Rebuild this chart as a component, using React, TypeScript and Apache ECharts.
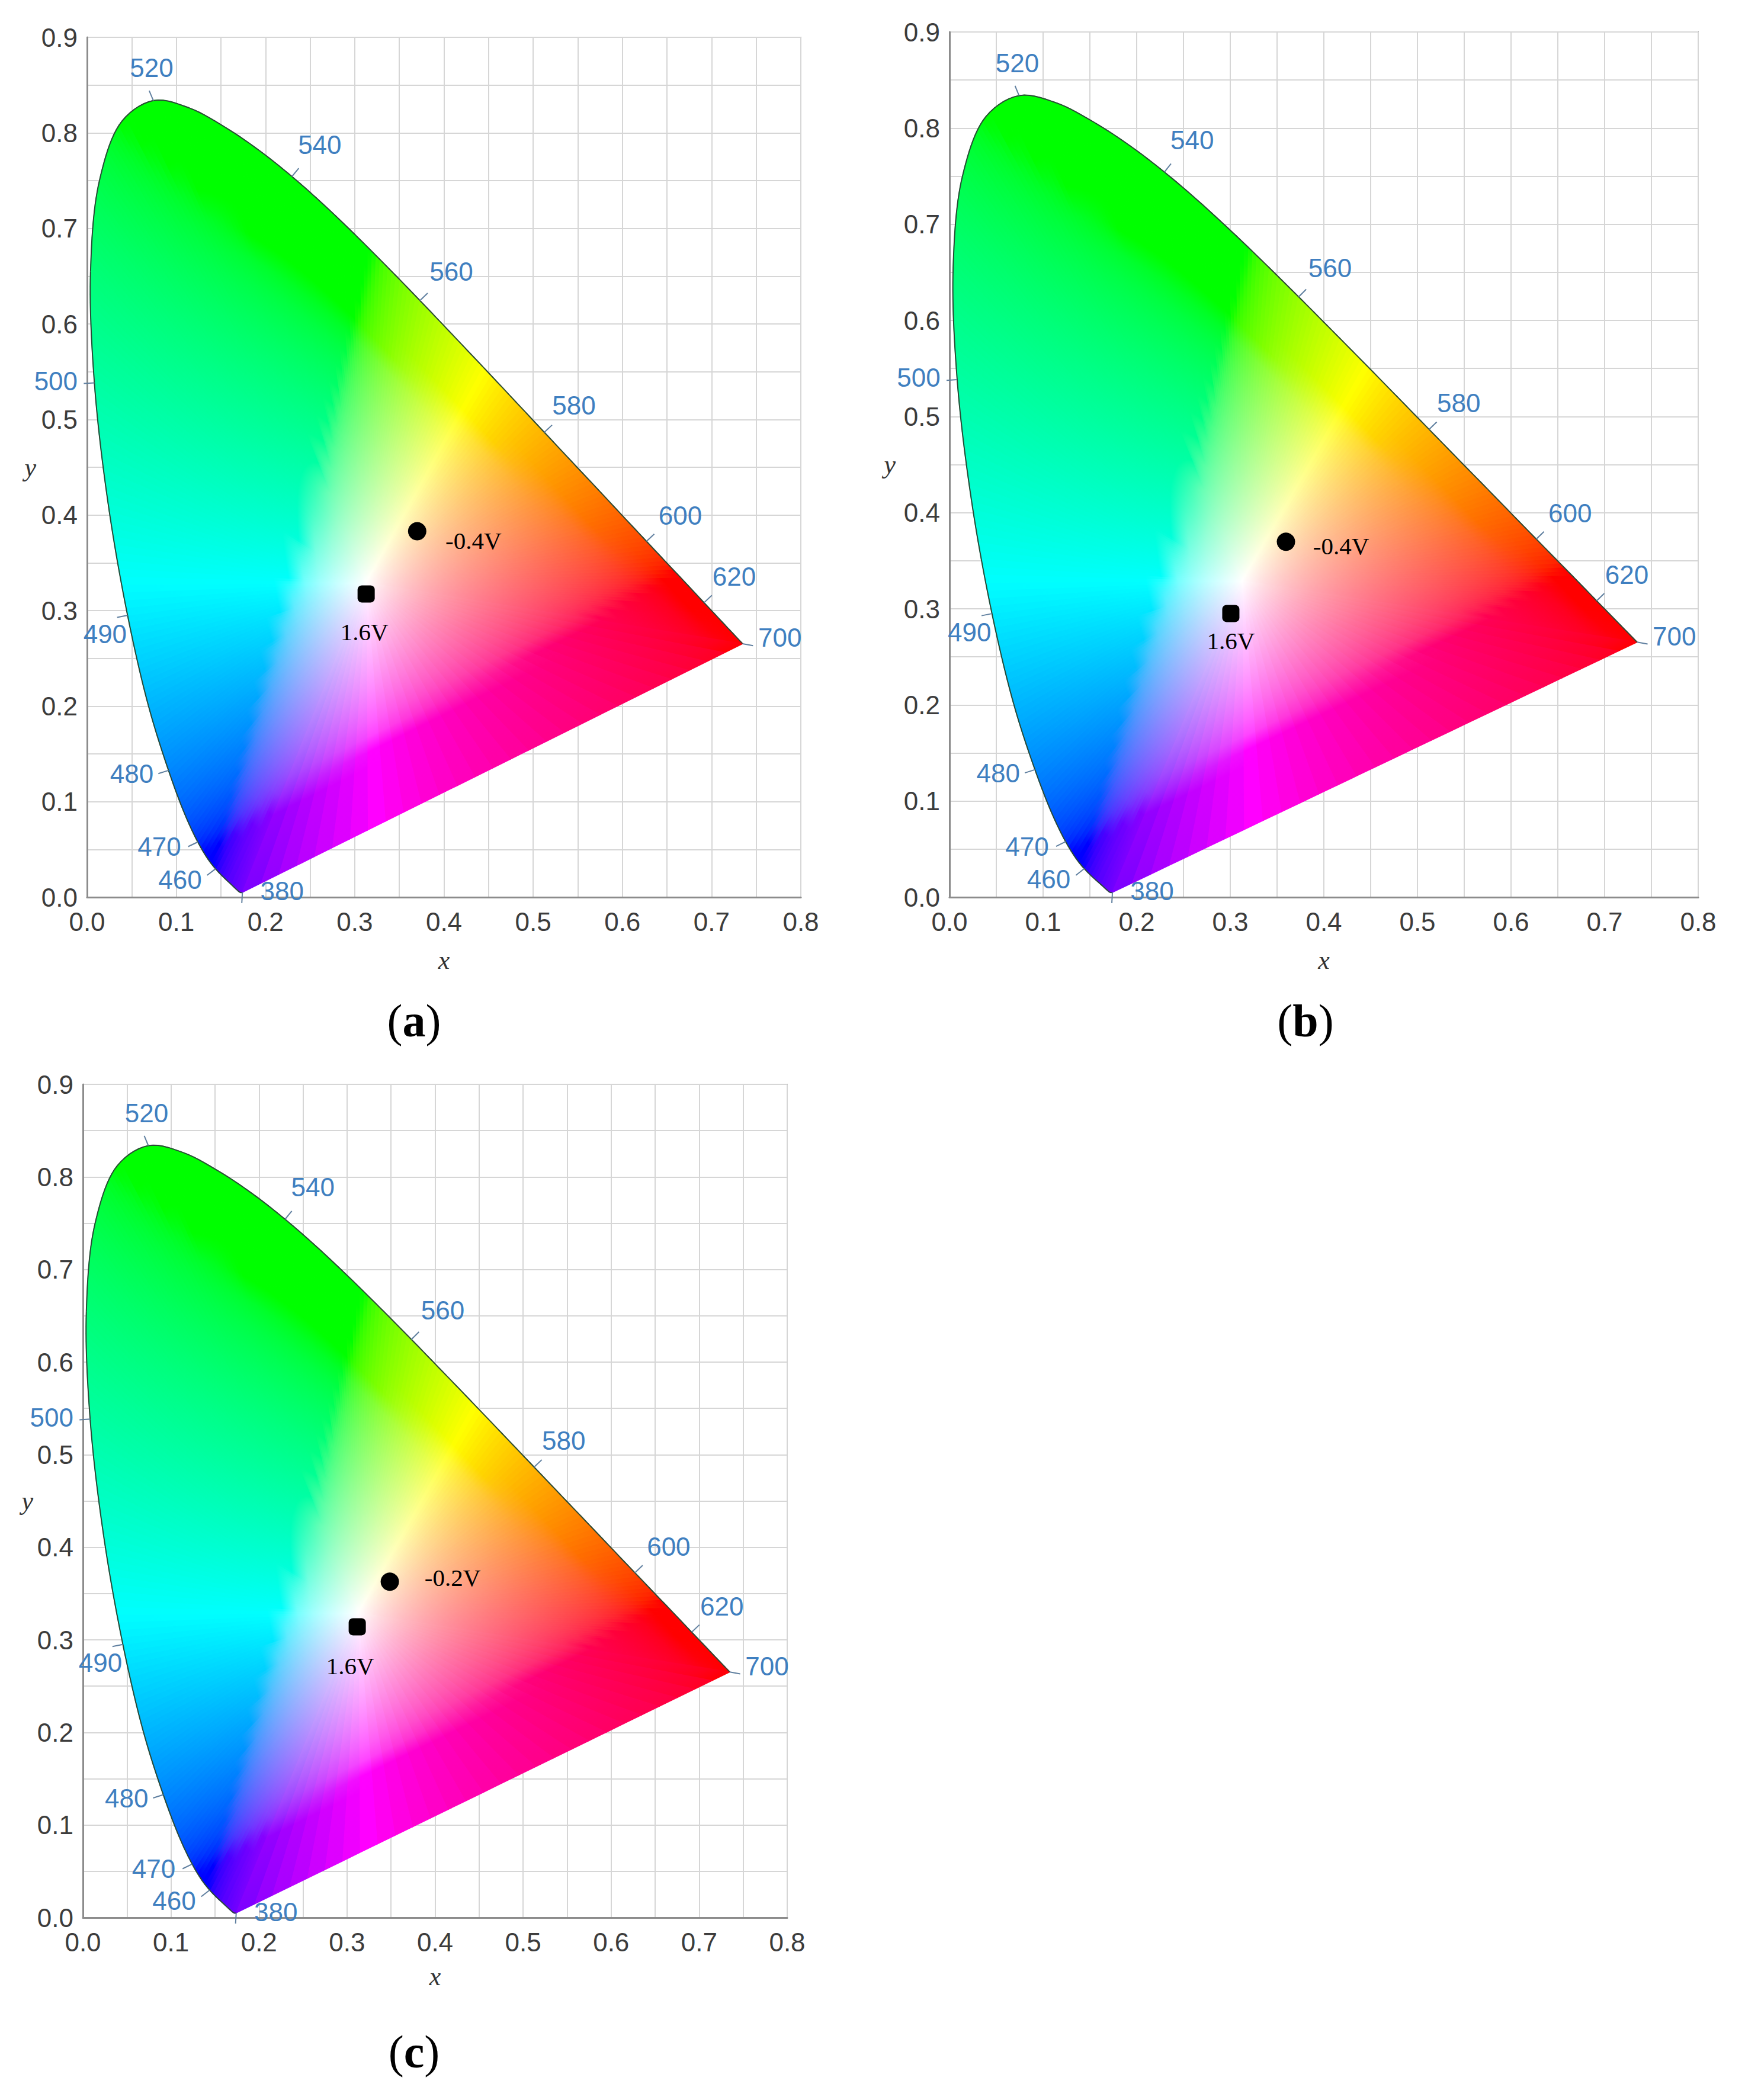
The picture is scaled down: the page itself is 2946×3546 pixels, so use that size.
import React, { useEffect, useRef } from 'react';
import * as echarts from 'echarts';

// ---------------- DATA ----------------
// CIE 1931 2° spectral locus (chromaticity x, y) at 5 nm steps
const wavelengths = [380,385,390,395,400,405,410,415,420,425,430,435,440,445,450,455,460,465,470,475,480,485,490,495,500,505,510,515,520,525,530,535,540,545,550,555,560,565,570,575,580,585,590,595,600,605,610,615,620,625,630,635,640,645,650,655,660,665,670,675,680,685,690,695,700];
const locusX = [0.1741,0.1740,0.1738,0.1736,0.1733,0.1730,0.1726,0.1721,0.1714,0.1703,0.1689,0.1669,0.1644,0.1611,0.1566,0.1510,0.1440,0.1355,0.1241,0.1096,0.0913,0.0687,0.0454,0.0235,0.0082,0.0039,0.0139,0.0389,0.0743,0.1142,0.1547,0.1929,0.2296,0.2658,0.3016,0.3373,0.3731,0.4087,0.4441,0.4788,0.5125,0.5448,0.5752,0.6029,0.6270,0.6482,0.6658,0.6801,0.6915,0.7006,0.7079,0.7140,0.7190,0.7230,0.7260,0.7283,0.7300,0.7311,0.7320,0.7327,0.7334,0.7340,0.7344,0.7346,0.7347];
const locusY = [0.0050,0.0050,0.0049,0.0049,0.0048,0.0048,0.0048,0.0048,0.0051,0.0058,0.0069,0.0086,0.0109,0.0138,0.0177,0.0227,0.0297,0.0399,0.0578,0.0868,0.1327,0.2007,0.2950,0.4127,0.5384,0.6548,0.7502,0.8120,0.8338,0.8262,0.8059,0.7816,0.7543,0.7243,0.6923,0.6589,0.6245,0.5896,0.5547,0.5202,0.4866,0.4544,0.4242,0.3965,0.3725,0.3514,0.3340,0.3197,0.3083,0.2993,0.2920,0.2859,0.2809,0.2770,0.2740,0.2717,0.2700,0.2689,0.2680,0.2673,0.2666,0.2660,0.2656,0.2654,0.2653];

const labeledWavelengths = [380, 460, 470, 480, 490, 500, 520, 540, 560, 580, 600, 620, 700];

// D65 white point (centre of the colour fill)
const whitePoint = [0.3127, 0.3290];

// measured points per panel
const panelTags = ['a', 'b', 'c'];
const circleLabels = ['-0.4V', '-0.4V', '-0.2V'];
const squareLabels = ['1.6V', '1.6V', '1.6V'];
const circleX = [0.370, 0.3595, 0.3486];
const circleY = [0.383, 0.3697, 0.3628];
const squareX = [0.3128, 0.3006, 0.3116];
const squareY = [0.3174, 0.2951, 0.3141];

// axis ranges / ticks
const xMin = 0, xMax = 0.8;
const yMin = 0, yMax = 0.9;
const gridStep = 0.05;

// ---------------- LAYOUT / STYLE ----------------
const GRIDS = [
  { left: 147, top: 63, width: 1205, height: 1452 },
  { left: 1603, top: 54, width: 1264, height: 1461 },
  { left: 140, top: 1831, width: 1189, height: 1407 },
];
const X_NAME_GAP = [84, 84, 77];
const Y_NAME_GAP = [86, 91, 84];
const CAPTION_POS = [[699, 1723], [2204, 1723], [699, 3464]];
const CIRCLE_LABEL_OFFSET = [[95, 16], [93, 7], [106, -7]];
const SQUARE_LABEL_OFFSET = [[-3, 64], [0, 46], [-12, 66]];
const WL_LABEL_OFFSET: Record<number, [number, number]> = {
  380: [67, -2], 460: [-60, 18], 470: [-65, 8], 480: [-62, 6], 490: [-38, 31],
  500: [-65, -3], 520: [-3, -55], 540: [47, -54], 560: [53, -49], 580: [50, -45],
  600: [57, -44], 620: [51, -44], 700: [63, -10],
};
const TICK_LEN = 18;
const PURPLE_STEPS = 28;
const GRAD_STOPS = 16;
const SUB_PX = 10;

const AXIS_FONT = 'Liberation Sans';
const SERIF = 'Liberation Serif';
const WL_COLOR = '#3f7fc0';

// chromaticity -> display colour (clip negatives, normalise to max, sRGB gamma)
function xyToCss(x: number, y: number): string {
  const yy = Math.max(y, 1e-4);
  const X = x / yy, Y = 1, Z = (1 - x - yy) / yy;
  let r = 3.2406 * X - 1.5372 * Y - 0.4986 * Z;
  let g = -0.9689 * X + 1.8758 * Y + 0.0415 * Z;
  let b = 0.0557 * X - 0.2040 * Y + 1.0570 * Z;
  r = Math.max(0, r); g = Math.max(0, g); b = Math.max(0, b);
  const m = Math.max(r, g, b) || 1;
  const gam = (c: number) => {
    c = c / m;
    const v = c <= 0.0031308 ? 12.92 * c : 1.055 * Math.pow(c, 1 / 2.4) - 0.055;
    return Math.round(255 * Math.min(1, Math.max(0, v)));
  };
  return `rgb(${gam(r)},${gam(g)},${gam(b)})`;
}

// centripetal Catmull-Rom sub-points (data space) of the locus between index i and i+1
function smoothSegment(i: number, n: number): number[][] {
  const last = wavelengths.length - 1;
  const P = (k: number) => [locusX[k], locusY[k]];
  const P1 = P(i), P2 = P(i + 1);
  const P0 = i > 0 ? P(i - 1) : [2 * P1[0] - P2[0], 2 * P1[1] - P2[1]];
  const P3 = i + 2 <= last ? P(i + 2) : [2 * P2[0] - P1[0], 2 * P2[1] - P1[1]];
  const dt = (a: number[], b: number[]) => Math.max(Math.sqrt(Math.hypot(b[0] - a[0], b[1] - a[1])), 1e-3);
  const t0 = 0, t1 = t0 + dt(P0, P1), t2 = t1 + dt(P1, P2), t3 = t2 + dt(P2, P3);
  const lerp = (a: number[], b: number[], ta: number, tb: number, t: number) => {
    const w = (t - ta) / (tb - ta);
    return [a[0] + (b[0] - a[0]) * w, a[1] + (b[1] - a[1]) * w];
  };
  const pts: number[][] = [];
  for (let k = 0; k <= n; k++) {
    if (k === 0) { pts.push(P1); continue; }
    if (k === n) { pts.push(P2); continue; }
    const t = t1 + (t2 - t1) * (k / n);
    const A1 = lerp(P0, P1, t0, t1, t);
    const A2 = lerp(P1, P2, t1, t2, t);
    const A3 = lerp(P2, P3, t2, t3, t);
    const B1 = lerp(A1, A2, t0, t2, t);
    const B2 = lerp(A2, A3, t1, t3, t);
    pts.push(lerp(B1, B2, t1, t2, t));
  }
  return pts;
}

// boundary points (data space) for one boundary item: spectral segment or the purple line
function boundaryPoints(api: any): number[][] {
  const x1 = api.value(0), y1 = api.value(1), x2 = api.value(2), y2 = api.value(3), idx = api.value(4);
  const a = api.coord([x1, y1]), b = api.coord([x2, y2]);
  const len = Math.hypot(b[0] - a[0], b[1] - a[1]);
  if (idx < 0) {
    const pts: number[][] = [];
    for (let k = 0; k <= PURPLE_STEPS; k++) {
      const t = k / PURPLE_STEPS;
      pts.push([x1 + (x2 - x1) * t, y1 + (y2 - y1) * t]);
    }
    return pts;
  }
  const n = Math.max(1, Math.min(14, Math.ceil(len / SUB_PX)));
  return smoothSegment(idx, n);
}

function fillRenderItem(params: any, api: any) {
  const w = api.coord(whitePoint);
  const pts = boundaryPoints(api);
  const children: any[] = [];
  for (let k = 0; k < pts.length - 1; k++) {
    const d1 = pts[k], d2 = pts[k + 1];
    const p1 = api.coord(d1), p2 = api.coord(d2);
    const dx = p2[0] - p1[0], dy = p2[1] - p1[1];
    const len2 = dx * dx + dy * dy;
    let fx = p1[0], fy = p1[1];
    if (len2 > 1e-6) {
      const u = ((w[0] - p1[0]) * dx + (w[1] - p1[1]) * dy) / len2;
      fx = p1[0] + u * dx; fy = p1[1] + u * dy;
    }
    const mx = (d1[0] + d2[0]) / 2, my = (d1[1] + d2[1]) / 2;
    const stops: any[] = [];
    for (let s = 0; s <= GRAD_STOPS; s++) {
      const t = s / GRAD_STOPS;
      stops.push({
        offset: t,
        color: xyToCss(whitePoint[0] + t * (mx - whitePoint[0]), whitePoint[1] + t * (my - whitePoint[1])),
      });
    }
    const grad = new echarts.graphic.LinearGradient(w[0], w[1], fx, fy, stops, true);
    children.push({
      type: 'polygon',
      shape: { points: [w, p1, p2] },
      style: { fill: grad, stroke: grad, lineWidth: 1.5, lineJoin: 'round' },
    });
  }
  return { type: 'group', children };
}

function outlineRenderItem(params: any, api: any) {
  const pts = boundaryPoints(api).map((d) => api.coord(d));
  return {
    type: 'polyline',
    shape: { points: pts },
    style: { stroke: '#2a4a36', lineWidth: 2, fill: 'none' },
  };
}

function tickRenderItem(params: any, api: any) {
  const wl = api.value(2);
  const i = wavelengths.indexOf(wl);
  const last = wavelengths.length - 1;
  const pt = (k: number) => api.coord([locusX[k], locusY[k]]);
  const nrm = (a: number[], b: number[]) => {
    const dx = b[0] - a[0], dy = b[1] - a[1];
    const l = Math.hypot(dx, dy) || 1;
    return [dy / l, -dx / l];
  };
  const P = pt(i);
  let n: number[];
  if (i === 0) {
    const a = nrm(pt(last), pt(0)); const b = nrm(pt(0), pt(12));
    n = [a[0] + b[0], a[1] + b[1]];
  } else if (i === last) {
    const a = nrm(pt(last - 2), pt(last)); const b = nrm(pt(last), pt(0));
    n = [a[0] + b[0], a[1] + b[1]];
  } else {
    n = nrm(pt(Math.max(0, i - 2)), pt(Math.min(last, i + 2)));
  }
  const l = Math.hypot(n[0], n[1]) || 1;
  n = [n[0] / l, n[1] / l];
  const off = WL_LABEL_OFFSET[wl] || [n[0] * 60, n[1] * 50];
  return {
    type: 'group',
    children: [
      {
        type: 'line',
        shape: { x1: P[0], y1: P[1], x2: P[0] + n[0] * TICK_LEN, y2: P[1] + n[1] * TICK_LEN },
        style: { stroke: '#5f7f9f', lineWidth: 2 },
      },
      {
        type: 'text',
        x: P[0] + off[0],
        y: P[1] + off[1],
        style: {
          text: String(wl), fill: WL_COLOR, fontSize: 44, fontFamily: AXIS_FONT,
          align: 'center', verticalAlign: 'middle', textAlign: 'center', textVerticalAlign: 'middle',
        },
      },
    ],
  };
}

const tickFormatter = (v: number) =>
  Math.round(v * 20) % 2 === 0 ? (Math.round(v * 10) / 10).toFixed(1) : '';

function buildOption() {
  const last = wavelengths.length - 1;
  const spectralItems = wavelengths.slice(0, last).map((_, i) => [locusX[i], locusY[i], locusX[i + 1], locusY[i + 1], i]);
  const purpleItem = [locusX[last], locusY[last], locusX[0], locusY[0], -1];
  const boundaryItems = [...spectralItems, purpleItem];
  const markerData = labeledWavelengths.map((wl) => {
    const i = wavelengths.indexOf(wl);
    return [locusX[i], locusY[i], wl];
  });

  const grid: any[] = [], xAxis: any[] = [], yAxis: any[] = [], series: any[] = [], graphic: any[] = [];

  panelTags.forEach((tag, p) => {
    grid.push({ ...GRIDS[p], show: true, borderColor: '#a8a8a8', borderWidth: 2, backgroundColor: '#fff' });
    const axisCommon = {
      gridIndex: p,
      type: 'value',
      interval: gridStep,
      axisTick: { show: false },
      axisLine: { show: true, onZero: false, lineStyle: { color: '#8c8c8c', width: 3 } },
      splitLine: { show: true, lineStyle: { color: '#d6d6d6', width: 2 } },
      axisLabel: { formatter: tickFormatter, fontSize: 44, color: '#3c3c3c', fontFamily: AXIS_FONT, margin: 16 },
      nameLocation: 'middle',
      nameTextStyle: { fontFamily: SERIF, fontStyle: 'italic', fontSize: 44, color: '#333' },
    };
    xAxis.push({
      ...axisCommon, min: xMin, max: xMax, name: 'x', nameGap: X_NAME_GAP[p],
      axisLabel: { ...axisCommon.axisLabel, margin: 19 },
    });
    yAxis.push({ ...axisCommon, min: yMin, max: yMax, name: 'y', nameGap: Y_NAME_GAP[p], nameRotate: 0 });

    series.push({
      type: 'custom', xAxisIndex: p, yAxisIndex: p, silent: true, z: 2,
      renderItem: fillRenderItem,
      encode: { x: [0, 2], y: [1, 3] },
      data: boundaryItems,
    });
    series.push({
      type: 'custom', xAxisIndex: p, yAxisIndex: p, silent: true, z: 3,
      renderItem: outlineRenderItem,
      encode: { x: [0, 2], y: [1, 3] },
      data: spectralItems,
    });
    series.push({
      type: 'custom', xAxisIndex: p, yAxisIndex: p, silent: true, z: 4,
      renderItem: tickRenderItem,
      encode: { x: 0, y: 1 },
      data: markerData,
    });
    series.push({
      type: 'scatter', xAxisIndex: p, yAxisIndex: p, silent: true, z: 5,
      symbol: 'circle', symbolSize: 31,
      itemStyle: { color: '#000', opacity: 1 },
      label: {
        show: true, position: 'inside', formatter: circleLabels[p],
        offset: CIRCLE_LABEL_OFFSET[p], color: '#000', fontFamily: SERIF, fontSize: 41,
      },
      data: [[circleX[p], circleY[p]]],
    });
    series.push({
      type: 'scatter', xAxisIndex: p, yAxisIndex: p, silent: true, z: 5,
      symbol: 'roundRect', symbolSize: 29,
      itemStyle: { color: '#000', opacity: 1 },
      label: {
        show: true, position: 'inside', formatter: squareLabels[p],
        offset: SQUARE_LABEL_OFFSET[p], color: '#000', fontFamily: SERIF, fontSize: 41,
      },
      data: [[squareX[p], squareY[p]]],
    });

    graphic.push({
      type: 'text',
      x: CAPTION_POS[p][0],
      y: CAPTION_POS[p][1],
      style: {
        text: `{n|(}{b|${tag}}{n|)}`,
        align: 'center', verticalAlign: 'middle', textAlign: 'center', textVerticalAlign: 'middle',
        rich: {
          n: { fontFamily: SERIF, fontSize: 78, fontWeight: 'normal', fill: '#000', color: '#000' },
          b: { fontFamily: SERIF, fontSize: 78, fontWeight: 'bold', fill: '#000', color: '#000' },
        },
      },
    });
  });

  return { animation: false, backgroundColor: '#fff', grid, xAxis, yAxis, series, graphic };
}

export default function App() {
  const ref = useRef<HTMLDivElement>(null);
  useEffect(() => {
    if (!ref.current) return;
    const chart = echarts.init(ref.current, null, { renderer: 'svg' });
    chart.setOption(buildOption() as any);
    return () => chart.dispose();
  }, []);
  return (
    <div
      ref={ref}
      style={{ position: 'absolute', left: 0, top: 0, width: 2946, height: 3546, background: '#fff' }}
    />
  );
}
